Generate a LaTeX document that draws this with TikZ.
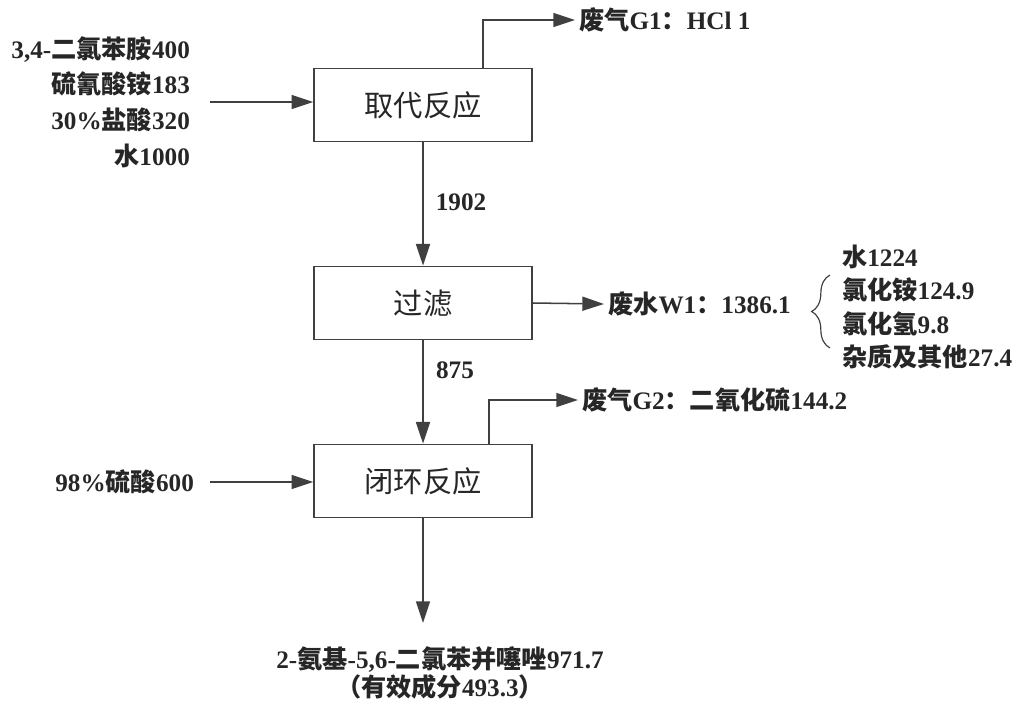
\documentclass[tikz,border=0pt]{standalone}
\usepackage{fontspec}
\setmainfont{Liberation Serif}
\newfontfamily\cjk{Noto Sans CJK SC}
\usetikzlibrary{arrows.meta,decorations.pathreplacing}
\begin{document}
\begin{tikzpicture}[x=0.03cm, y=-0.03cm,
  every node/.style={font=\fontsize{21.5}{30.5}\selectfont\bfseries, text=black!85},
  proc/.style={draw=black!75, line width=1.3pt, minimum width=6.54cm, minimum height=2.2cm, font=\fontsize{25}{28}\selectfont\cjk},
  flow/.style={draw=black!75, line width=1.3pt, -{Triangle[length=0.65cm,width=0.42cm]}}]
\useasboundingbox[fill=white] (0,0) rectangle (1022,701);
% process boxes
\node[proc] (sub) at (423,105) {取代反应};
\node[proc] (filt) at (423,303) {过滤};
\node[proc] (ring) at (423,481) {闭环反应};
% feeds
\node[align=right, anchor=east] (feed) at (194,102) {3,4-{\cjk 二氯苯胺}400\\{\cjk 硫氰酸铵}183\\30\%{\cjk 盐酸}320\\{\cjk 水}1000};
\node[anchor=east] (acid) at (198,482) {98\%{\cjk 硫酸}600};
\draw[flow] ([xshift=0.48cm]feed.east) -- (feed.east -| sub.west);
\draw[flow] ([xshift=0.36cm]acid.east) -- (acid.east -| ring.west);
% off-gas
\coordinate (g1x) at (483,0);
\coordinate (g2x) at (489,0);
\node[anchor=west] (g1) at (575,20) {{\cjk 废气}G1{\cjk ：}HCl 1};
\node[anchor=west] (g2) at (578,400) {{\cjk 废气}G2{\cjk ：二氧化硫}144.2};
\draw[flow] (sub.north -| g1x) |- (g1.west);
\draw[flow] (ring.north -| g2x) |- (g2.west);
% main line
\node (m1) at (461,202) {1902};
\node (m2) at (455,370) {875};
\draw[flow] (sub) -- (filt);
\draw[flow] (filt) -- (ring);
\coordinate (pend) at (423,623);
\draw[flow] (ring.south) -- (pend);
\node[align=center, font=\fontsize{21.5}{24}\selectfont\bfseries] (prod) at (440,673) {2-{\cjk 氨基}-5,6-{\cjk 二氯苯并噻唑}971.7\\{\cjk （有效成分}493.3{\cjk ）}};
% waste water
\node[anchor=west] (w1) at (604,304) {{\cjk 废水}W1{\cjk ：}1386.1};
\draw[flow] (filt.east) -- (w1.west);
\draw[draw=black!75, line width=1pt, decorate, decoration={brace, amplitude=0.55cm}] (830,348) -- (830,275);
\node[align=left, anchor=west, font=\fontsize{21.5}{28.5}\selectfont\bfseries] (comp) at (838,307) {{\cjk 水}1224\\{\cjk 氯化铵}124.9\\{\cjk 氯化氢}9.8\\{\cjk 杂质及其他}27.4};
\end{tikzpicture}
\end{document}
